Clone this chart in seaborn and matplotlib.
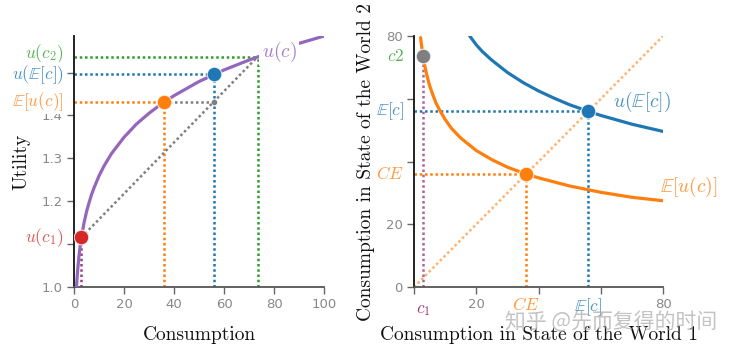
import numpy as np
import pandas as pd
import matplotlib
matplotlib.use("Agg")
import matplotlib.pyplot as plt
import seaborn as sns

# --- values ---
# utility curve u(c)
cons = [1, 1.2, 1.5, 2, 2.5, 3, 4, 5, 6, 7, 8, 10, 12, 15, 20, 25, 30, 35, 40,
        50, 60, 70, 80, 90, 100]
util = [1.000, 1.018, 1.041, 1.072, 1.096, 1.116, 1.149, 1.175, 1.196, 1.215,
        1.231, 1.259, 1.282, 1.311, 1.349, 1.380, 1.405, 1.427, 1.446,
        1.479, 1.506, 1.529, 1.550, 1.568, 1.585]

# key points
C1, C2 = 3.0, 73.5          # consumption in the two states
EC, CE = 56.0, 36.0         # expected consumption, certainty equivalent
U_C1, U_C2 = 1.116, 1.537   # u(c1), u(c2)
U_EC, EU = 1.496, 1.431     # u(E[c]), E[u(c)]

# indifference curves (state 1 vs state 2)
eu_x = [2.1, 2.5, 3, 3.5, 4, 5, 6, 7, 8, 10, 12, 15, 20, 25, 30, 36, 40, 50, 60, 70, 80]
eu_y = [79.5, 76.4, 73.1, 70.3, 68.0, 64.2, 61.4, 58.8, 56.8, 53.4, 50.6, 47.5,
        43.5, 40.6, 38.2, 36.0, 34.8, 32.2, 30.2, 28.6, 27.5]
uec_x = [17.9, 20, 22, 25, 30, 35, 40, 45, 50, 56, 60, 70, 80]
uec_y = [80.0, 77.2, 75.0, 72.3, 68.4, 65.2, 62.5, 60.2, 58.1, 56.0, 54.7, 51.9, 49.6]

left_yticks = [1.0, 1.1, 1.2, 1.3, 1.4, 1.5]
left_ylabels = ["1.0", "", "1.2", "1.3", "1.4", ""]
left_xticks = [0, 20, 40, 60, 80, 100]
right_ticks = [0, 20, 40, 60, 80]
right_xlabels = ["", "20", "", "", "80"]
right_ylabels = ["0", "20", "", "", "80"]

# --- style ---
PURPLE, BLUE, ORANGE = "#9467bd", "#1f77b4", "#ff7f0e"
RED, GREEN, GRAY = "#d62728", "#2ca02c", "#7f7f7f"
MAUVE = "#9b3d80"
sns.set_theme(style="ticks")
plt.rcParams["font.family"] = ["DejaVu Sans"]
plt.rcParams["mathtext.fontset"] = "cm"

LABEL_FONT = dict(family="cmr10", fontsize=14, color="#111111")
BOX = dict(facecolor="white", edgecolor="none", pad=0.5)

fig = plt.figure(figsize=(7.42, 3.57), dpi=100)
ax1 = fig.add_axes([0.0997, 0.196, 0.337, 0.703])
ax2 = fig.add_axes([0.558, 0.196, 0.3356, 0.703])

def style_axis(ax):
    sns.despine(ax=ax)
    ax.spines["left"].set_color("#111111")
    ax.spines["bottom"].set_color("#555555")
    ax.spines["left"].set_linewidth(1.3)
    ax.spines["bottom"].set_linewidth(1.3)
    ax.tick_params(direction="out", length=5, width=1, color="#666666",
                   labelcolor="#888888", labelsize=9.5, pad=3)

dot = dict(linestyle=(0, (1, 1.1)), linewidth=1.8)
mk = dict(marker="o", markersize=10.5, markeredgecolor="#ffffffcc", markeredgewidth=0.8,
          linestyle="none", zorder=6)

# ---------------- left panel: utility ----------------
sns.lineplot(x=cons, y=util, ax=ax1, color=PURPLE, linewidth=2.3, zorder=4)

ax1.plot([0, C2], [U_C2, U_C2], color=GREEN, **dot)
ax1.plot([C2, C2], [1.0, U_C2], color=GREEN, **dot)
ax1.plot([0, EC], [U_EC, U_EC], color=BLUE, **dot)
ax1.plot([EC, EC], [1.0, U_EC], color=BLUE, **dot)
ax1.plot([0, CE], [EU, EU], color=ORANGE, **dot)
ax1.plot([CE, CE], [1.0, EU], color=ORANGE, **dot)
ax1.plot([CE, EC], [EU, EU], color=GRAY, **dot)
ax1.plot([C1, C2], [U_C1, U_C2], color=GRAY, **dot)
ax1.plot([C1, C1], [1.0, U_C1], color=MAUVE, **dot)
ax1.plot([EC], [EU], marker="o", markersize=3, color=GRAY, linestyle="none")

ax1.plot([C1], [U_C1], color=RED, **mk)
ax1.plot([CE], [EU], color=ORANGE, **mk)
ax1.plot([EC], [U_EC], color=BLUE, **mk)

ax1.set_xlim(0, 100)
ax1.set_ylim(1.0, util[-1])
ax1.set_xticks(left_xticks)
ax1.set_yticks(left_yticks)
ax1.set_yticklabels(left_ylabels)
style_axis(ax1)
ax1.set_xlabel("Consumption", labelpad=11, **LABEL_FONT)
ax1.set_ylabel("Utility", labelpad=8, **LABEL_FONT)

ylab = dict(transform=ax1.get_yaxis_transform(), ha="right", va="center",
            fontsize=12.5, clip_on=False, bbox=BOX, zorder=8)
ax1.text(-0.04, U_C2 + 0.008, r"$u(c_2)$", color=GREEN, alpha=0.8, **ylab)
ax1.text(-0.04, U_EC, r"$u(\mathbb{E}[c])$", color=BLUE, alpha=0.8, **ylab)
ax1.text(-0.04, EU, r"$\mathbb{E}[u(c)]$", color=ORANGE, alpha=0.8, **ylab)
ax1.text(-0.04, U_C1, r"$u(c_1)$", color=RED, alpha=0.8, **ylab)
ax1.text(C2 + 8.5, U_C2 + 0.012, r"$u(c)$", color=PURPLE, fontsize=14,
         alpha=0.85, ha="center", va="center", zorder=7,
         bbox=dict(facecolor="white", edgecolor="none", pad=1.5))

# ---------------- right panel: states of the world ----------------
curves = pd.DataFrame({
    "x": eu_x + uec_x,
    "y": eu_y + uec_y,
    "curve": ["eu"] * len(eu_x) + ["uec"] * len(uec_x),
})
sns.lineplot(data=curves, x="x", y="y", hue="curve", sort=False,
             palette={"eu": ORANGE, "uec": BLUE}, linewidth=2.3,
             legend=False, ax=ax2, zorder=4)

ax2.plot([0, 80], [0, 80], color=ORANGE, alpha=0.6, **dot)
ax2.plot([C1, C1], [0, C2], color=MAUVE, alpha=0.8, **dot)
ax2.plot([0, EC], [EC, EC], color=BLUE, **dot)
ax2.plot([EC, EC], [0, EC], color=BLUE, **dot)
ax2.plot([0, CE], [CE, CE], color=ORANGE, **dot)
ax2.plot([CE, CE], [0, CE], color=ORANGE, **dot)

ax2.plot([C1], [C2], color=GRAY, **mk)
ax2.plot([EC], [EC], color=BLUE, **mk)
ax2.plot([CE], [CE], color=ORANGE, **mk)

ax2.set_xlim(0, 80)
ax2.set_ylim(0, 80)
ax2.set_xticks(right_ticks)
ax2.set_yticks(right_ticks)
ax2.set_xticklabels(right_xlabels)
ax2.set_yticklabels(right_ylabels)
style_axis(ax2)
ax2.set_xlabel("Consumption in State of the World 1", labelpad=11, **LABEL_FONT)
ax2.set_ylabel("Consumption in State of the World 2", labelpad=8, **LABEL_FONT)

ylab2 = dict(transform=ax2.get_yaxis_transform(), ha="right", va="center",
             fontsize=12.5, clip_on=False, bbox=BOX, zorder=8)
ax2.text(-0.04, C2, r"$c2$", color=GREEN, alpha=0.8, **ylab2)
ax2.text(-0.04, EC, r"$\mathbb{E}[c]$", color=BLUE, alpha=0.8, **ylab2)
ax2.text(-0.04, CE, r"$CE$", color=ORANGE, alpha=0.8, **ylab2)

xlab2 = dict(transform=ax2.get_xaxis_transform(), ha="center", va="top",
             fontsize=12.5, clip_on=False, bbox=BOX, zorder=8)
ax2.text(C1, -0.05, r"$c_1$", color=MAUVE, **xlab2)
ax2.text(CE, -0.035, r"$CE$", color=ORANGE, alpha=0.8, **xlab2)
ax2.text(EC, -0.035, r"$\mathbb{E}[c]$", color=BLUE, alpha=0.8, **xlab2)

ax2.text(uec_x[-1] - 16, EC + 3, r"$u(\mathbb{E}[c])$", color=BLUE, alpha=0.8,
         fontsize=14, ha="left", va="center")
ax2.text(eu_x[-1] - 1, eu_y[-1] + 4.5, r"$\mathbb{E}[u(c)]$", color=ORANGE,
         alpha=0.8, fontsize=14, ha="left", va="center")

# watermark
fig.text(0.68, 0.098, "知乎 @先而复得的时间", color="#aaaaaa", alpha=0.7,
         fontsize=15, family=["Noto Sans CJK SC", "DejaVu Sans"],
         ha="left", va="center")

fig.savefig("out.png", dpi=100)
